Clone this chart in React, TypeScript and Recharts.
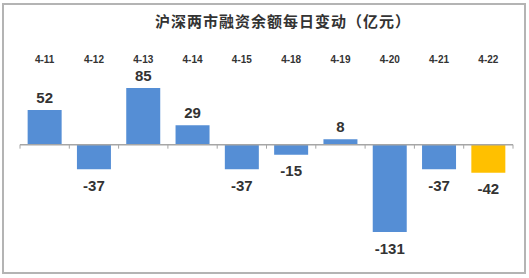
import { Bar, BarChart, Cell, LabelList, ReferenceLine, XAxis, YAxis } from "recharts";

const days = ["4-11", "4-12", "4-13", "4-14", "4-15", "4-18", "4-19", "4-20", "4-21", "4-22"];
const changes = [52, -37, 85, 29, -37, -15, 8, -131, -37, -42];
const highlightDay = "4-22";

const data = days.map((day, i) => ({ day, change: changes[i] }));

const BLUE = "#558ED5";
const GOLD = "#FFC000";
const AXIS = "#A6A6A6";

function ValueLabel(props: any) {
  const { x, y, width, height, value } = props;
  const cx = x + width / 2;
  const top = Math.min(y, y + height);
  const bottom = Math.max(y, y + height);
  const ty = value >= 0 ? top - 13 : bottom + 16;
  return (
    <text
      x={cx}
      y={ty}
      textAnchor="middle"
      dominantBaseline="central"
      fontFamily="'Liberation Sans', Arial, sans-serif"
      fontWeight="bold"
      fontSize={15}
      fill="#333"
    >
      {value}
    </text>
  );
}

function DayTick(props: any) {
  const { x, y, payload } = props;
  return (
    <text
      x={x}
      y={y}
      textAnchor="middle"
      dominantBaseline="central"
      fontFamily="'Liberation Sans', Arial, sans-serif"
      fontWeight="bold"
      fontSize={10}
      fill="#333"
    >
      {payload.value}
    </text>
  );
}

// zero line drawn with tick marks at the category boundaries
function ZeroAxis(props: any) {
  const { x1, x2, y1 } = props;
  const step = (x2 - x1) / days.length;
  const marks = [];
  for (let i = 0; i <= days.length; i++) {
    const tx = x1 + step * i;
    marks.push(<line key={i} x1={tx} x2={tx} y1={y1} y2={y1 + 4} stroke={AXIS} strokeWidth={1} />);
  }
  return (
    <g>
      <line x1={x1} x2={x2} y1={y1} y2={y1} stroke={AXIS} strokeWidth={1.5} />
      {marks}
    </g>
  );
}

export default function App() {
  return (
    <div style={{ position: "absolute", left: 0, top: 0, width: 529, height: 278, background: "#fff" }}>
      <div
        style={{
          position: "absolute",
          left: 2,
          top: 3,
          width: 524,
          height: 271,
          border: "2px solid #B4B4B4",
          boxSizing: "border-box",
        }}
      />
      <div
        style={{
          position: "absolute",
          left: 0,
          top: 10,
          width: 566,
          textAlign: "center",
          fontFamily: "'Noto Sans CJK SC', sans-serif",
          fontWeight: "bold",
          fontSize: 15,
          letterSpacing: 1,
          lineHeight: "22px",
          color: "#333",
        }}
      >
        沪深两市融资余额每日变动（亿元）
      </div>
      <div style={{ position: "absolute", left: 0, top: 0 }}>
        <BarChart
          width={529}
          height={278}
          data={data}
          margin={{ top: 58, right: 16, bottom: 40, left: 20 }}
          barCategoryGap="15.5%"
        >
          <XAxis
            dataKey="day"
            orientation="top"
            axisLine={false}
            tickLine={false}
            tickSize={0}
            tickMargin={0}
            height={20}
            tick={(p: any) => <DayTick {...p} y={59.5} />}
            interval={0}
          />
          <YAxis hide domain={[-140, 100]} />
          <ReferenceLine y={0} shape={(p: any) => <ZeroAxis {...p} />} />
          <Bar dataKey="change" isAnimationActive={false}>
            {data.map((d) => (
              <Cell key={d.day} fill={d.day === highlightDay ? GOLD : BLUE} />
            ))}
            <LabelList dataKey="change" content={(p: any) => <ValueLabel {...p} />} />
          </Bar>
        </BarChart>
      </div>
    </div>
  );
}
